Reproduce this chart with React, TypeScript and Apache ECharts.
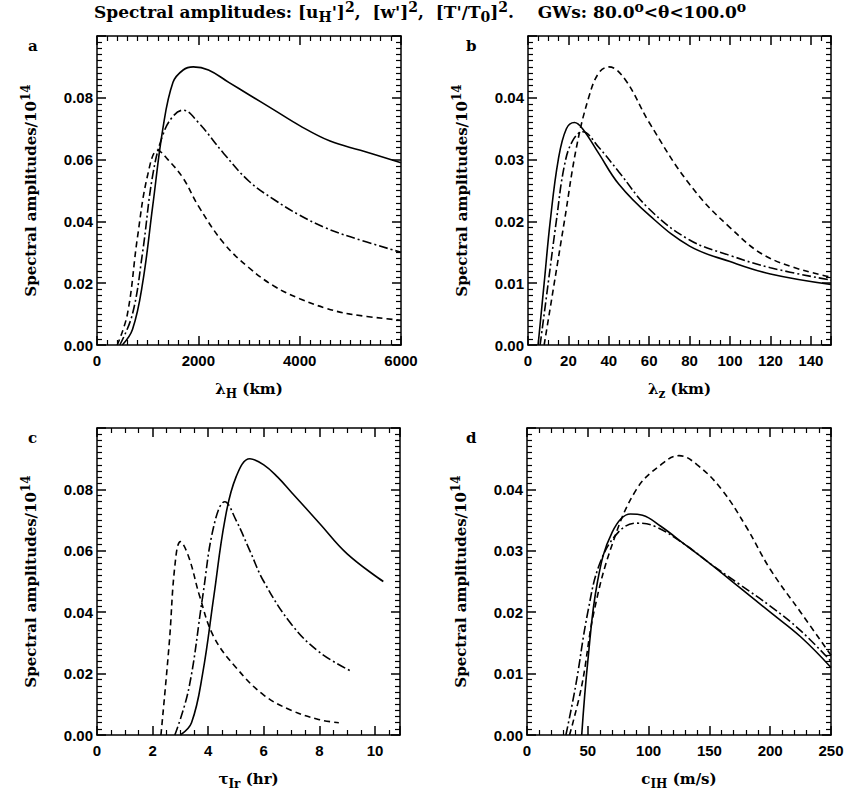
import React, { useEffect, useRef } from "react";
import * as echarts from "echarts";

// panel a: lambda_H (km)
const aSolid = [[500,0],[700,0.005],[900,0.02],[1100,0.045],[1300,0.07],[1500,0.085],[1700,0.089],[1900,0.09],[2200,0.089],[2600,0.085],[3000,0.081],[3500,0.076],[4000,0.071],[4600,0.066],[5200,0.063],[6000,0.059]];
const aDashDot = [[450,0],[700,0.01],[900,0.03],[1100,0.055],[1300,0.068],[1500,0.074],[1700,0.076],[2000,0.072],[2500,0.062],[3000,0.053],[3500,0.047],[4000,0.042],[4500,0.038],[5000,0.035],[6000,0.03]];
const aDashed = [[400,0],[600,0.01],[800,0.035],[1000,0.055],[1200,0.063],[1400,0.06],[1700,0.054],[2000,0.045],[2500,0.033],[3000,0.025],[3500,0.019],[4000,0.015],[4500,0.012],[5000,0.01],[6000,0.008]];
// panel b: lambda_z (km)
const bSolid = [[5,0],[8,0.01],[11,0.02],[15,0.03],[19,0.035],[23,0.036],[27,0.035],[35,0.031],[45,0.026],[60,0.021],[80,0.016],[100,0.0135],[120,0.0115],[150,0.0098]];
const bDashDot = [[6,0],[10,0.01],[14,0.02],[18,0.029],[22,0.033],[27,0.0345],[35,0.032],[45,0.028],[60,0.022],[80,0.017],[100,0.0145],[120,0.0125],[150,0.0105]];
const bDashed = [[8,0],[13,0.01],[18,0.02],[24,0.032],[30,0.04],[35,0.044],[40,0.045],[48,0.043],[60,0.036],[80,0.026],[100,0.019],[120,0.014],[150,0.011]];
// panel c: tau_Ir (hr)
const cSolid = [[3,0],[3.4,0.004],[3.8,0.02],[4.2,0.045],[4.6,0.07],[5,0.084],[5.5,0.09],[6,0.088],[6.5,0.084],[7,0.079],[8,0.069],[9,0.059],[10.3,0.05]];
const cDashDot = [[2.8,0],[3.3,0.015],[3.8,0.045],[4.2,0.068],[4.6,0.076],[5,0.07],[5.5,0.06],[6,0.05],[7,0.036],[8,0.027],[9.1,0.021]];
const cDashed = [[2.3,0],[2.6,0.03],[2.8,0.055],[3,0.063],[3.3,0.058],[3.7,0.045],[4.2,0.032],[5,0.022],[6,0.013],[7,0.008],[8,0.005],[8.7,0.004]];
// panel d: c_IH (m/s)
const dSolid = [[45,0],[50,0.012],[58,0.025],[70,0.033],[85,0.036],[95,0.0358],[110,0.034],[130,0.031],[150,0.028],[175,0.024],[200,0.02],[225,0.016],[250,0.011]];
const dDashDot = [[32,0],[40,0.008],[50,0.02],[60,0.028],[75,0.033],[90,0.0345],[105,0.034],[130,0.031],[150,0.028],[175,0.0245],[200,0.021],[225,0.017],[250,0.012]];
const dDashed = [[35,0],[45,0.008],[55,0.02],[70,0.031],[90,0.04],[110,0.044],[125,0.0455],[140,0.044],[160,0.04],[180,0.034],[200,0.027],[225,0.02],[250,0.013]];

const FONT = "Liberation Sans";
const SERIF = "DejaVu Serif";

const panels = [
  { left: 97, top: 36, width: 304, height: 309, xMax: 6000, xInt: 2000, xMinor: 10, yMax: 0.1, yInt: 0.02, yMinor: 10, name: "λ", sub: "H", unit: " (km)", data: [aSolid, aDashDot, aDashed] },
  { left: 528, top: 36, width: 303, height: 309, xMax: 150, xInt: 20, xMinor: 4, yMax: 0.05, yInt: 0.01, yMinor: 10, name: "λ", sub: "z", unit: " (km)", data: [bSolid, bDashDot, bDashed] },
  { left: 97, top: 428, width: 303, height: 307, xMax: 10.9, xInt: 2, xMinor: 4, yMax: 0.1, yInt: 0.02, yMinor: 10, name: "τ", sub: "Ir", unit: " (hr)", data: [cSolid, cDashDot, cDashed] },
  { left: 527, top: 428, width: 304, height: 307, xMax: 250, xInt: 50, xMinor: 5, yMax: 0.05, yInt: 0.01, yMinor: 10, name: "c", sub: "IH", unit: " (m/s)", data: [dSolid, dDashDot, dDashed] },
];

const letters = ["a", "b", "c", "d"];
const styles = [
  { type: "solid" as any },
  { type: [9, 3, 2, 3] as any },
  { type: [6, 4] as any },
];

const mkRich = (size: number) => ({
  n: { fontFamily: SERIF, fontWeight: "bold", fontSize: size, color: "#000", lineHeight: size + 10 },
  s: { fontFamily: SERIF, fontWeight: "bold", fontSize: size - 3, color: "#000", lineHeight: size + 10, padding: [10, 0, 0, 0] },
  p: { fontFamily: SERIF, fontWeight: "bold", fontSize: size - 3, color: "#000", lineHeight: size + 10, padding: [0, 0, 10, 0] },
});

const App: React.FC = () => {
  const ref = useRef<HTMLDivElement>(null);

  useEffect(() => {
    if (!ref.current) return;
    const chart = echarts.init(ref.current, null, { renderer: "svg" });
    const rich = mkRich(15);
    const grids: any[] = [];
    const xAxes: any[] = [];
    const yAxes: any[] = [];
    const series: any[] = [];
    const line = { lineStyle: { color: "#000", width: 1.5 } };
    panels.forEach((p, i) => {
      grids.push({ left: p.left, top: p.top, width: p.width, height: p.height });
      const common = { min: 0, axisLine: { show: true, onZero: false, ...line }, axisTick: { show: true, inside: true, length: 9, ...line }, minorTick: { show: true, length: 5, lineStyle: { color: "#000", width: 1.2 } }, splitLine: { show: false } };
      const xBase = { ...common, type: "value", gridIndex: i, max: p.xMax, interval: p.xInt, minorTick: { ...common.minorTick, splitNumber: p.xMinor } };
      xAxes.push({
        ...xBase, position: "bottom",
        axisLabel: { fontFamily: FONT, fontWeight: "bold", fontSize: 15, color: "#000", margin: 8, formatter: (v: number) => (Math.abs(v / p.xInt - Math.round(v / p.xInt)) < 1e-6 ? String(v) : "") },
        name: `{n|${p.name}}{s|${p.sub}}{n|${p.unit}}`, nameLocation: "middle", nameGap: 31, nameTextStyle: { rich },
      });
      xAxes.push({ ...xBase, position: "top", axisLabel: { show: false } });
      const yBase = { ...common, type: "value", gridIndex: i, max: p.yMax, interval: p.yInt, minorTick: { ...common.minorTick, splitNumber: p.yMinor } };
      yAxes.push({
        ...yBase, position: "left",
        axisLabel: { fontFamily: FONT, fontWeight: "bold", fontSize: 15, color: "#000", margin: 4, formatter: (v: number) => (v > p.yMax - 1e-6 ? "" : v.toFixed(2)) },
        name: "{n|Spectral amplitudes/10}{p|14}", nameLocation: "middle", nameGap: 54, nameTextStyle: { rich },
      });
      yAxes.push({ ...yBase, position: "right", axisLabel: { show: false } });
      p.data.forEach((d, k) => {
        series.push({ type: "line", xAxisIndex: i * 2, yAxisIndex: i * 2, data: d, smooth: 0.4, showSymbol: false, lineStyle: { color: "#000", width: 1.6, ...styles[k] } });
      });
    });
    const graphic: any[] = [
      { type: "text", left: 94, top: 0, style: { rich: mkRich(17), text: "{n|Spectral amplitudes: [u}{s|H}{n|']}{p|2}{n|,  [w']}{p|2}{n|,  [T'/T}{s|0}{n|]}{p|2}{n|.    GWs: 80.0}{p|o}{n|<θ<100.0}{p|o}" } },
    ];
    const pos = [[28, 38], [466, 38], [28, 430], [466, 430]];
    letters.forEach((l, i) => graphic.push({ type: "text", x: pos[i][0], y: pos[i][1], style: { text: l, font: `bold 15px ${SERIF}`, fill: "#000" } }));
    chart.setOption({ animation: false, backgroundColor: "#fff", grid: grids, xAxis: xAxes, yAxis: yAxes, series, graphic });
    return () => chart.dispose();
  }, []);

  return <div ref={ref} style={{ position: "fixed", left: 0, top: 0, width: 852, height: 794 }} />;
};

export default App;
